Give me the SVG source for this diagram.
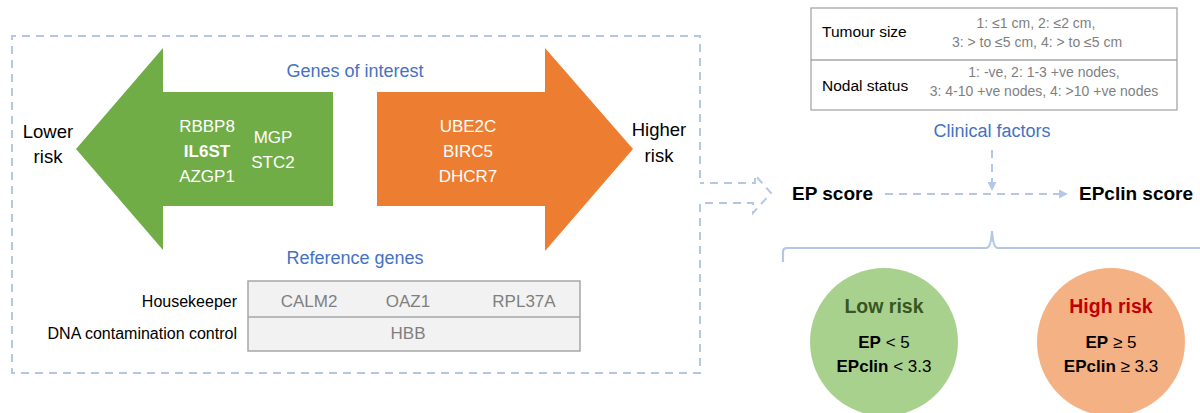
<svg xmlns="http://www.w3.org/2000/svg" width="1200" height="413" viewBox="0 0 1200 413">
<defs>
<style>
text{font-family:"Liberation Sans",Arial,sans-serif}
.dash{fill:none;stroke:#B4C7E7;stroke-width:2;stroke-dasharray:8,6}
.blue{fill:#4472C4;font-size:18px;text-anchor:middle}
.gene{fill:#FFFFFF;font-size:17px;text-anchor:middle}
.blk{fill:#000;font-size:18.5px;text-anchor:middle}
.lab{fill:#000;font-size:16px;text-anchor:end}
.grey{fill:#7F7F7F;font-size:17px;text-anchor:middle}
.tl{fill:#000;font-size:15.5px}
.tv{fill:#7F7F7F;font-size:14px;text-anchor:middle}
.score{fill:#000;font-size:19px;font-weight:bold}
.ct{fill:#000;font-size:17px;text-anchor:middle}
.risk{font-size:19.5px;font-weight:bold;text-anchor:middle}
</style>
<marker id="ah" viewBox="0 0 10 10" refX="9" refY="5" markerWidth="4.5" markerHeight="4.5" orient="auto">
<path d="M0,0 L10,5 L0,10 z" fill="#B4C7E7"/>
</marker>
</defs>
<rect width="1200" height="413" fill="#FFFFFF"/>

<g id="assay-box">
<path class="dash" d="M700,178 V36 H12 V373 H700 V203 H753 V213 L771,193 L755,175 V183 H700"/>
</g>

<g id="genes-of-interest-label">
<text class="blue" x="355" y="77">Genes of interest</text>
</g>

<g id="lower-risk-arrow">
<polygon points="76,149 163,48 163,92 333,92 333,206 163,206 163,250" fill="#70AD47"/>
<text class="gene" x="207" y="132">RBBP8</text>
<text class="gene" x="207" y="157" font-weight="bold">IL6ST</text>
<text class="gene" x="207" y="182">AZGP1</text>
<text class="gene" x="273" y="143">MGP</text>
<text class="gene" x="273" y="168">STC2</text>
</g>

<g id="lower-risk-label">
<text class="blk" x="48" y="138">Lower</text>
<text class="blk" x="48" y="163">risk</text>
</g>

<g id="higher-risk-arrow">
<polygon points="377,92 545,92 545,48 633,149 545,251 545,206 377,206" fill="#ED7D31"/>
<text class="gene" x="468" y="132">UBE2C</text>
<text class="gene" x="468" y="157">BIRC5</text>
<text class="gene" x="468" y="182">DHCR7</text>
</g>

<g id="higher-risk-label">
<text class="blk" x="659" y="136">Higher</text>
<text class="blk" x="659" y="162">risk</text>
</g>

<g id="reference-genes">
<text class="blue" x="355" y="264">Reference genes</text>
<rect x="248" y="281" width="332" height="70" fill="#F2F2F2" stroke="#A6A6A6" stroke-width="1.5"/>
<line x1="248" y1="317" x2="580" y2="317" stroke="#A6A6A6" stroke-width="1.5"/>
<text class="lab" x="237" y="307">Housekeeper</text>
<text class="lab" x="237" y="339">DNA contamination control</text>
<text class="grey" x="309" y="307">CALM2</text>
<text class="grey" x="408" y="307">OAZ1</text>
<text class="grey" x="524" y="307">RPL37A</text>
<text class="grey" x="408" y="339">HBB</text>
</g>

<g id="clinical-factors-table">
<rect x="811" y="8" width="366" height="102" fill="#FFFFFF" stroke="#A6A6A6" stroke-width="1.3"/>
<line x1="811" y1="60" x2="1177" y2="60" stroke="#A6A6A6" stroke-width="1.3"/>
<text class="tl" x="822" y="37">Tumour size</text>
<text class="tv" x="1036" y="28">1: ≤1 cm, 2: ≤2 cm,</text>
<text class="tv" x="1037" y="47">3: &gt; to ≤5 cm, 4: &gt; to ≤5 cm</text>
<text class="tl" x="822" y="91">Nodal status</text>
<text class="tv" x="1044" y="77">1: -ve, 2: 1-3 +ve nodes,</text>
<text class="tv" x="1044" y="96">3: 4-10 +ve nodes, 4: &gt;10 +ve nodes</text>
<text class="blue" x="992" y="137">Clinical factors</text>
</g>

<g id="ep-score">
<text class="score" x="792" y="200">EP score</text>
</g>

<g id="epclin-score">
<text class="score" x="1079" y="200">EPclin score</text>
</g>

<g id="connectors">
<path class="dash" d="M885,194 H1067" marker-end="url(#ah)"/>
<path class="dash" d="M992,150 V190" marker-end="url(#ah)"/>
<path d="M783,262 V252 Q783,248 787,248 H986 Q991,248 992,231 Q993,248 998,248 H1202" fill="none" stroke="#B4C7E7" stroke-width="2.2"/>
</g>

<g id="low-risk">
<circle cx="884" cy="342" r="74" fill="#A9D18E"/>
<text class="risk" x="884" y="313" fill="#375623">Low risk</text>
<text class="ct" x="884" y="348"><tspan font-weight="bold">EP</tspan> &lt; 5</text>
<text class="ct" x="884" y="372"><tspan font-weight="bold">EPclin</tspan> &lt; 3.3</text>
</g>

<g id="high-risk">
<circle cx="1111" cy="342" r="74" fill="#F4B183"/>
<text class="risk" x="1111" y="313" fill="#C00000">High risk</text>
<text class="ct" x="1111" y="348"><tspan font-weight="bold">EP</tspan> ≥ 5</text>
<text class="ct" x="1111" y="372"><tspan font-weight="bold">EPclin</tspan> ≥ 3.3</text>
</g>
</svg>
